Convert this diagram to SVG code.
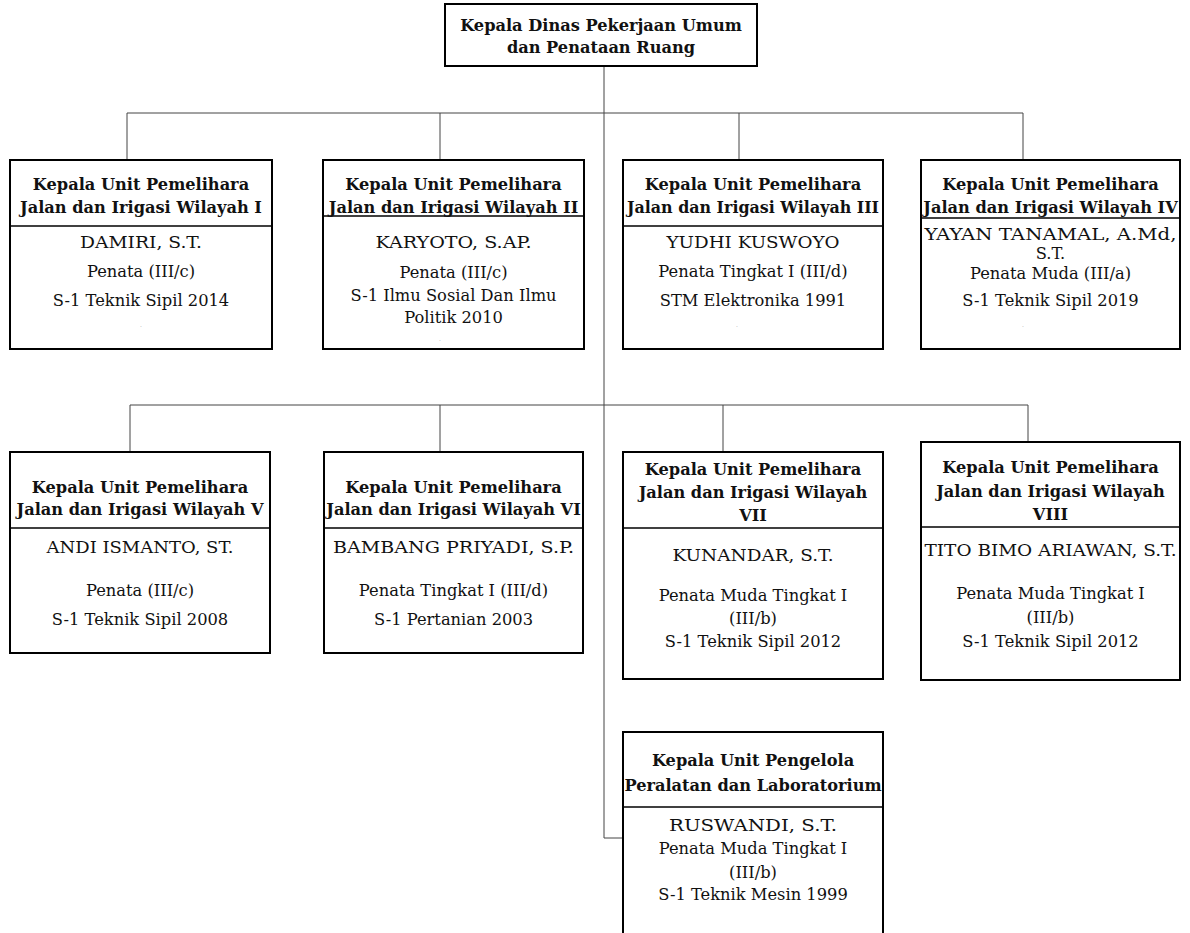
<svg xmlns="http://www.w3.org/2000/svg" width="1190" height="933" viewBox="0 0 1190 933">
<style>
.box{fill:#fff;stroke:#000;stroke-width:2}
.div{stroke:#000;stroke-width:1.5}
.con{fill:none;stroke:#444;stroke-width:1}
text{font-family:"DejaVu Serif","Liberation Serif",serif;font-size:16.3px;fill:#111;text-anchor:middle}
.h{font-weight:bold;font-size:16.2px}
.dot{font-size:6px;fill:#999}
</style>
<rect width="1190" height="933" fill="#fff"/>
<g id="connectors">
<path class="con" d="M604 66V838H623"/>
<path class="con" d="M127 113H1023M127 113V160M440 113V160M739 113V160M1023 113V160"/>
<path class="con" d="M130 405H1028M130 405V452M440 405V452M723 405V452M1028 405V442"/>
</g>
<g id="kepala-dinas">
<rect class="box" x="445" y="4" width="312" height="62"/>
<text class="h" x="601" y="31">Kepala Dinas Pekerjaan Umum</text>
<text class="h" x="601" y="53">dan Penataan Ruang</text>
</g>
<g id="wilayah-1">
<rect class="box" x="10" y="160" width="262" height="189"/>
<line class="div" x1="10" y1="226" x2="272" y2="226"/>
<text class="h" x="141" y="190">Kepala Unit Pemelihara</text>
<text class="h" x="141" y="213">Jalan dan Irigasi Wilayah I</text>
<text x="141" y="248" textLength="122" lengthAdjust="spacingAndGlyphs">DAMIRI, S.T.</text>
<text x="141" y="277">Penata (III/c)</text>
<text x="141" y="306">S-1 Teknik Sipil 2014</text>
<text class="dot" x="141" y="327">.</text>
</g>
<g id="wilayah-2">
<rect class="box" x="323" y="160" width="261" height="189"/>
<line class="div" x1="323" y1="216" x2="584" y2="216"/>
<text class="h" x="453.5" y="190">Kepala Unit Pemelihara</text>
<text class="h" x="453.5" y="213">Jalan dan Irigasi Wilayah II</text>
<text x="453.5" y="248" textLength="156" lengthAdjust="spacingAndGlyphs">KARYOTO, S.AP.</text>
<text x="453.5" y="278">Penata (III/c)</text>
<text x="453.5" y="301">S-1 Ilmu Sosial Dan Ilmu</text>
<text x="453.5" y="323">Politik 2010</text>
<text class="dot" x="440" y="341">.</text>
</g>
<g id="wilayah-3">
<rect class="box" x="623" y="160" width="260" height="189"/>
<line class="div" x1="623" y1="226" x2="883" y2="226"/>
<text class="h" x="753" y="190">Kepala Unit Pemelihara</text>
<text class="h" x="753" y="213" textLength="252" lengthAdjust="spacingAndGlyphs">Jalan dan Irigasi Wilayah III</text>
<text x="753" y="248" textLength="173" lengthAdjust="spacingAndGlyphs">YUDHI KUSWOYO</text>
<text x="753" y="277">Penata Tingkat I (III/d)</text>
<text x="753" y="306">STM Elektronika 1991</text>
<text class="dot" x="737" y="327">.</text>
</g>
<g id="wilayah-4">
<rect class="box" x="921" y="160" width="259" height="189"/>
<line class="div" x1="921" y1="218" x2="1180" y2="218"/>
<text class="h" x="1050.5" y="190">Kepala Unit Pemelihara</text>
<text class="h" x="1050.5" y="213">Jalan dan Irigasi Wilayah IV</text>
<text x="1050.5" y="240" textLength="252" lengthAdjust="spacingAndGlyphs">YAYAN TANAMAL, A.Md,</text>
<text x="1050.5" y="259">S.T.</text>
<text x="1050.5" y="279">Penata Muda (III/a)</text>
<text x="1050.5" y="306">S-1 Teknik Sipil 2019</text>
<text class="dot" x="1023" y="327">.</text>
</g>
<g id="wilayah-5">
<rect class="box" x="10" y="452" width="260" height="201"/>
<line class="div" x1="10" y1="528" x2="270" y2="528"/>
<text class="h" x="140" y="493">Kepala Unit Pemelihara</text>
<text class="h" x="140" y="515">Jalan dan Irigasi Wilayah V</text>
<text x="140" y="553" textLength="187" lengthAdjust="spacingAndGlyphs">ANDI ISMANTO, ST.</text>
<text x="140" y="596">Penata (III/c)</text>
<text x="140" y="625">S-1 Teknik Sipil 2008</text>
</g>
<g id="wilayah-6">
<rect class="box" x="324" y="452" width="259" height="201"/>
<line class="div" x1="324" y1="528" x2="583" y2="528"/>
<text class="h" x="453.5" y="493">Kepala Unit Pemelihara</text>
<text class="h" x="453.5" y="515">Jalan dan Irigasi Wilayah VI</text>
<text x="453.5" y="553" textLength="241" lengthAdjust="spacingAndGlyphs">BAMBANG PRIYADI, S.P.</text>
<text x="453.5" y="596">Penata Tingkat I (III/d)</text>
<text x="453.5" y="625">S-1 Pertanian 2003</text>
</g>
<g id="wilayah-7">
<rect class="box" x="623" y="452" width="260" height="227"/>
<line class="div" x1="623" y1="528" x2="883" y2="528"/>
<text class="h" x="753" y="475">Kepala Unit Pemelihara</text>
<text class="h" x="753" y="498">Jalan dan Irigasi Wilayah</text>
<text class="h" x="753" y="521">VII</text>
<text x="753" y="561" textLength="161" lengthAdjust="spacingAndGlyphs">KUNANDAR, S.T.</text>
<text x="753" y="601">Penata Muda Tingkat I</text>
<text x="753" y="624">(III/b)</text>
<text x="753" y="647">S-1 Teknik Sipil 2012</text>
</g>
<g id="wilayah-8">
<rect class="box" x="921" y="442" width="259" height="238"/>
<line class="div" x1="921" y1="527" x2="1180" y2="527"/>
<text class="h" x="1050.5" y="473">Kepala Unit Pemelihara</text>
<text class="h" x="1050.5" y="497">Jalan dan Irigasi Wilayah</text>
<text class="h" x="1050.5" y="520">VIII</text>
<text x="1050.5" y="556" textLength="252" lengthAdjust="spacingAndGlyphs">TITO BIMO ARIAWAN, S.T.</text>
<text x="1050.5" y="599">Penata Muda Tingkat I</text>
<text x="1050.5" y="623">(III/b)</text>
<text x="1050.5" y="647">S-1 Teknik Sipil 2012</text>
</g>
<g id="unit-peralatan">
<rect class="box" x="623" y="732" width="260" height="215"/>
<line class="div" x1="623" y1="807" x2="883" y2="807"/>
<text class="h" x="753" y="766">Kepala Unit Pengelola</text>
<text class="h" x="753" y="791">Peralatan dan Laboratorium</text>
<text x="753" y="831" textLength="168" lengthAdjust="spacingAndGlyphs">RUSWANDI, S.T.</text>
<text x="753" y="854">Penata Muda Tingkat I</text>
<text x="753" y="878">(III/b)</text>
<text x="753" y="900">S-1 Teknik Mesin 1999</text>
</g>
</svg>
